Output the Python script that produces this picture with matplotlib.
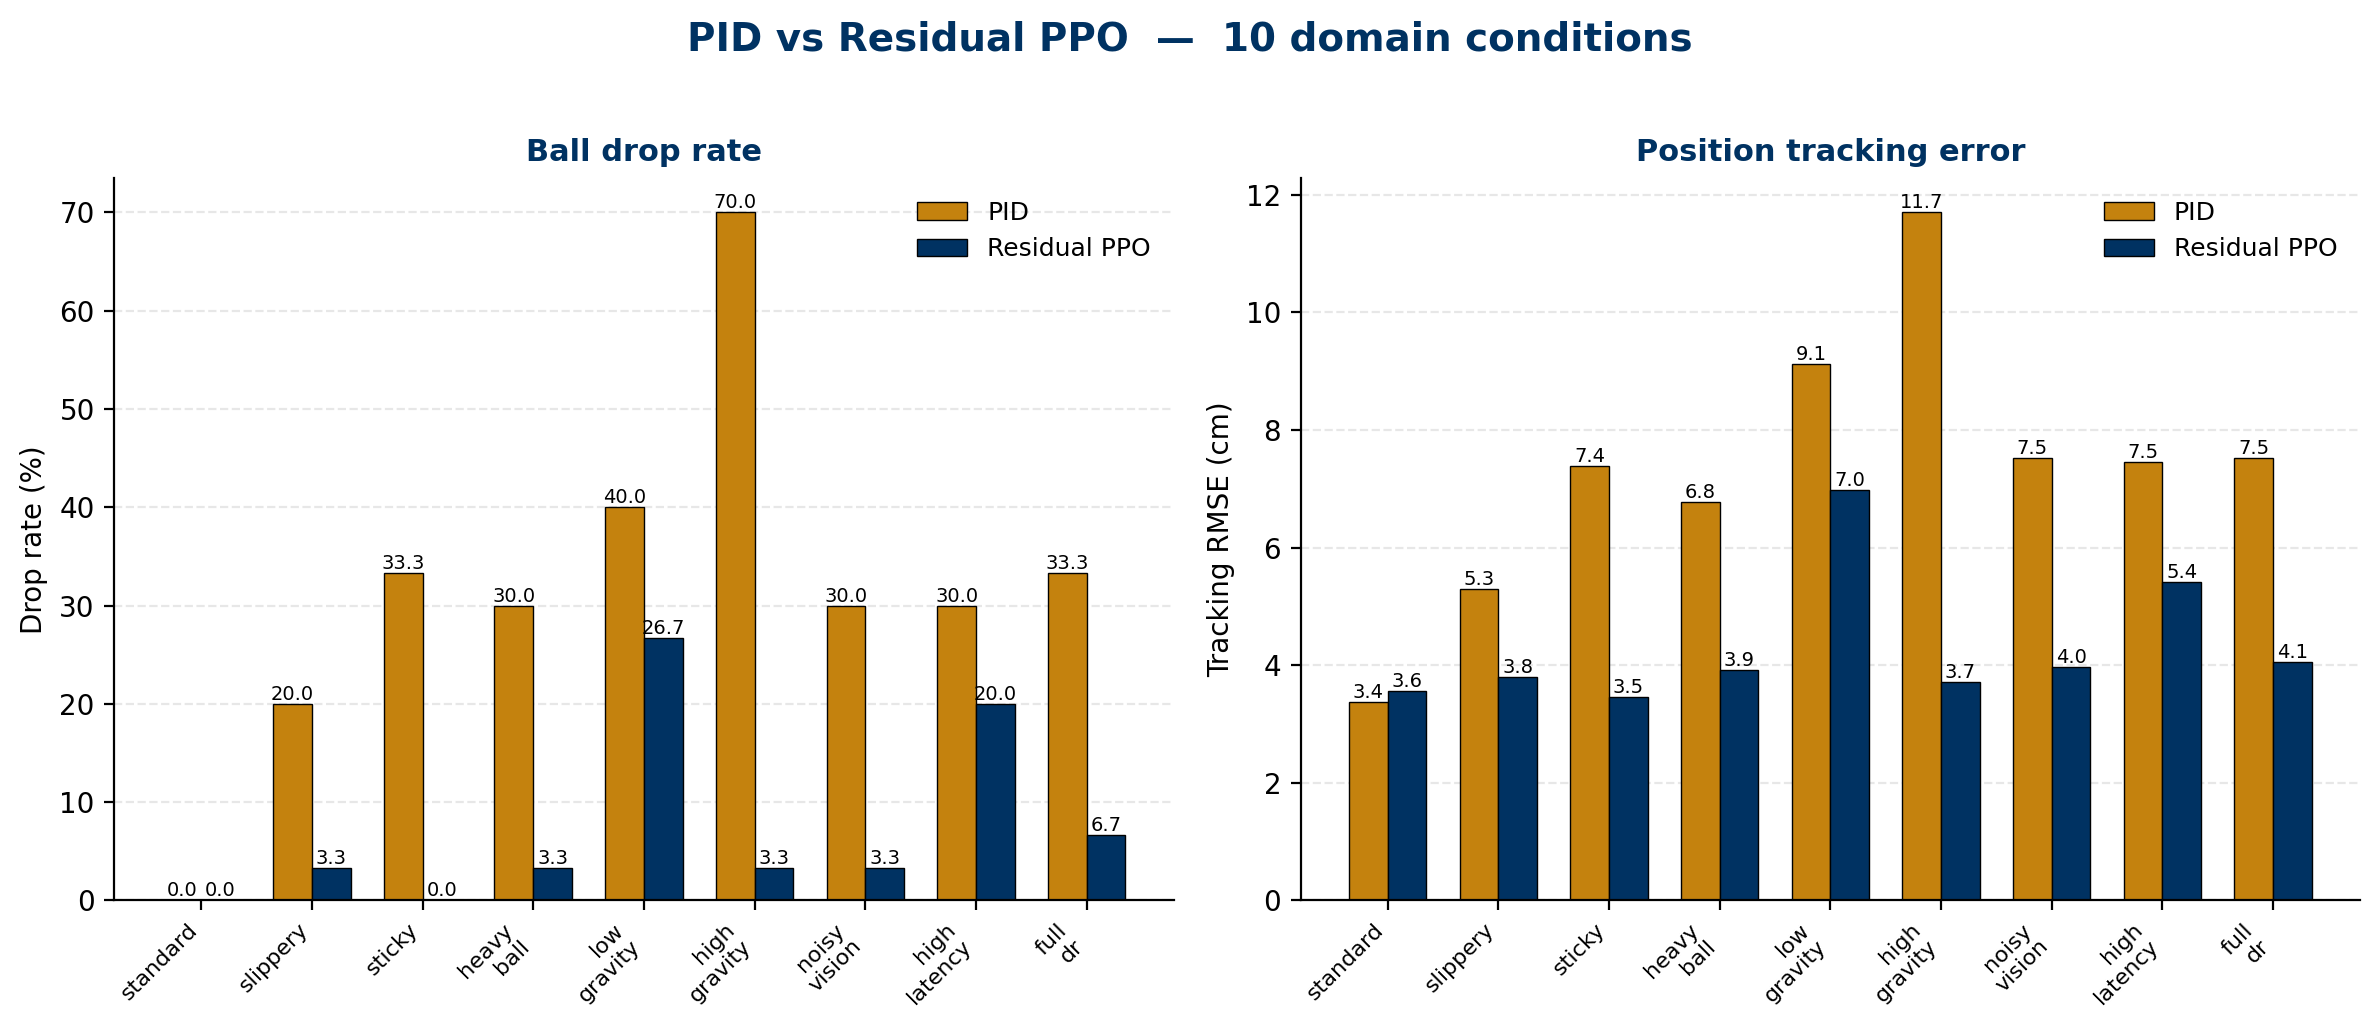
import numpy as np
import matplotlib.pyplot as plt

conditions = ["standard", "slippery", "sticky", "heavy\nball", "low\ngravity",
              "high\ngravity", "noisy\nvision", "high\nlatency", "full\ndr"]

pid_drop = [0.0, 20.0, 33.3, 30.0, 40.0, 70.0, 30.0, 30.0, 33.3]
ppo_drop = [0.0, 3.3, 0.0, 3.3, 26.7, 3.3, 3.3, 20.0, 6.7]

pid_rmse = [3.38, 5.29, 7.39, 6.77, 9.12, 11.70, 7.53, 7.46, 7.52]
ppo_rmse = [3.56, 3.80, 3.46, 3.91, 6.98, 3.71, 3.97, 5.42, 4.06]

GOLD = "#C4820E"
NAVY = "#003262"

fig, axes = plt.subplots(1, 2, figsize=(2380 / 200, 1029 / 200), dpi=200)
fig.subplots_adjust(left=0.048, right=0.9916, top=0.827, bottom=0.125, wspace=0.12)

x = np.arange(len(conditions))
w = 0.35

panels = [
    (axes[0], pid_drop, ppo_drop, "Ball drop rate", "Drop rate (%)"),
    (axes[1], pid_rmse, ppo_rmse, "Position tracking error", "Tracking RMSE (cm)"),
]

for ax, pid, ppo, title, ylabel in panels:
    b1 = ax.bar(x - w / 2, pid, w, color=GOLD, edgecolor="black", linewidth=0.5, label="PID")
    b2 = ax.bar(x + w / 2, ppo, w, color=NAVY, edgecolor="black", linewidth=0.5, label="Residual PPO")
    for bars in (b1, b2):
        for b in bars:
            h = b.get_height()
            ax.text(b.get_x() + b.get_width() / 2, h, f"{h:.1f}",
                    ha="center", va="bottom", fontsize=7)
    ax.set_title(title, fontsize=11, fontweight="bold", color=NAVY)
    ax.set_ylabel(ylabel, fontsize=10)
    ax.set_xticks(x)
    ax.set_xticklabels(conditions, rotation=45, ha="right", fontsize=8)
    ax.tick_params(axis="y", labelsize=10)
    ax.grid(axis="y", linestyle="--", alpha=0.3)
    ax.set_axisbelow(True)
    ax.spines["top"].set_visible(False)
    ax.spines["right"].set_visible(False)
    ax.legend(frameon=False, fontsize=9, loc="upper right")

fig.suptitle("PID vs Residual PPO  \u2014  10 domain conditions",
             fontsize=14, fontweight="bold", color=NAVY, y=0.98)

fig.savefig("out.png", dpi=200)
